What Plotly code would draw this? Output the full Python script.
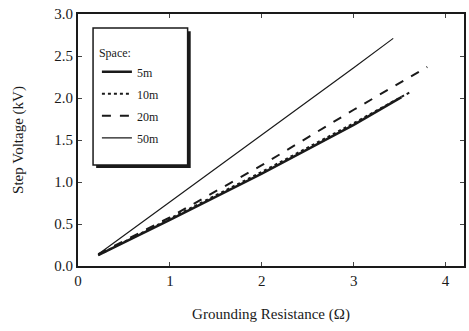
import plotly.graph_objects as go

series_names = ["5m", "10m", "20m", "50m"]
x_5m = [0.22, 1.0, 2.0, 3.0, 3.52]
y_5m = [0.13, 0.55, 1.10, 1.68, 2.01]
x_10m = [0.22, 1.0, 2.0, 3.0, 3.63]
y_10m = [0.13, 0.56, 1.12, 1.70, 2.08]
x_20m = [0.22, 1.0, 2.0, 3.0, 3.80]
y_20m = [0.14, 0.58, 1.20, 1.86, 2.37]
x_50m = [0.22, 1.0, 2.0, 3.0, 3.43]
y_50m = [0.14, 0.76, 1.56, 2.36, 2.71]

xs = [x_5m, x_10m, x_20m, x_50m]
ys = [y_5m, y_10m, y_20m, y_50m]
dashes = ["solid", "dot", "dash", "solid"]
widths = [2.4, 2, 2, 1.2]

font = "Liberation Serif, Times New Roman, serif"
ink = "#1a1a1a"
fig = go.Figure()
for n, x, y, d, w in zip(series_names, xs, ys, dashes, widths):
    fig.add_trace(go.Scatter(x=x, y=y, mode="lines", name=n, legendgroup=n,
                             line=dict(color=ink, dash=d, width=w)))

# legend frame with drop shadow
fig.add_shape(type="rect", xref="paper", yref="paper",
              x0=0.047, x1=0.292, y0=0.389, y1=0.932,
              fillcolor=ink, line=dict(width=0), layer="above")
fig.add_shape(type="rect", xref="paper", yref="paper",
              x0=0.039, x1=0.284, y0=0.401, y1=0.944,
              fillcolor="white", line=dict(width=1.5, color=ink), layer="above")

fig.update_layout(
    width=469, height=331,
    margin=dict(l=78, r=3, t=14, b=65),
    plot_bgcolor="white", paper_bgcolor="white",
    font=dict(family=font, size=13, color=ink),
    showlegend=True,
    legend=dict(x=0.049, y=0.89, xanchor="left", yanchor="top",
                bgcolor="rgba(0,0,0,0)", borderwidth=0,
                title=dict(text="Space:", font=dict(size=12)),
                font=dict(size=12), tracegroupgap=3, traceorder="grouped"),
    xaxis=dict(range=[0, 4.2], tickvals=[0, 1, 2, 3, 4], ticks="inside", ticklen=4,
               showline=True, linecolor=ink, linewidth=2, mirror="ticks",
               showgrid=False, zeroline=False,
               title=dict(text="Grounding Resistance (Ω)", font=dict(size=15), standoff=20),
               tickfont=dict(size=15)),
    yaxis=dict(range=[0, 3.0], tickvals=[0, 0.5, 1, 1.5, 2, 2.5, 3],
               ticktext=["0.0", "0.5", "1.0", "1.5", "2.0", "2.5", "3.0"],
               ticks="inside", ticklen=4,
               showline=True, linecolor=ink, linewidth=2, mirror="ticks",
               showgrid=False, zeroline=False,
               title=dict(text="Step Voltage (kV)", font=dict(size=15), standoff=27),
               tickfont=dict(size=15)),
)
fig.write_html("out.html")
